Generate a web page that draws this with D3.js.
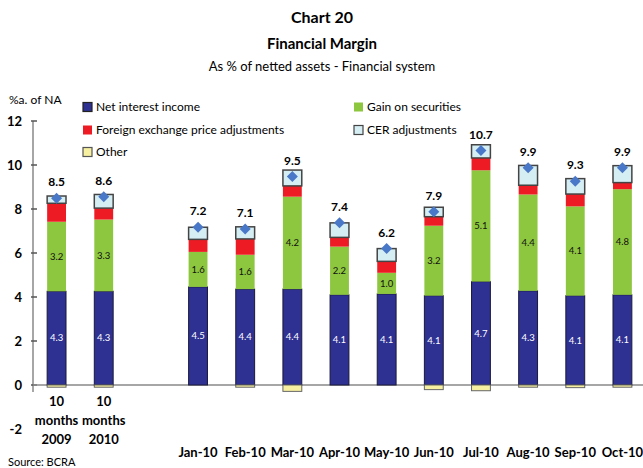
<!DOCTYPE html>
<html><head><meta charset="utf-8">
<script src="https://cdn.jsdelivr.net/npm/d3@7/dist/d3.min.js"></script>
<style>
body{margin:0;background:#fff;}
svg{display:block;font-family:Lato,"Open Sans",sans-serif;}
</style></head>
<body><svg id="c" width="643" height="468"></svg>
<script>
const categories = ["10 months 2009","10 months 2010","Jan-10","Feb-10","Mar-10","Apr-10","May-10","Jun-10","Jul-10","Aug-10","Sep-10","Oct-10"];
const netInterest = [4.26,4.26,4.46,4.36,4.36,4.1,4.14,4.06,4.7,4.28,4.06,4.1];
const gainSecurities = [3.16,3.26,1.59,1.56,4.2,2.19,0.96,3.18,5.06,4.38,4.06,4.8];
const fxAdjust = [0.84,0.52,0.57,0.72,0.49,0.42,0.52,0.41,0.56,0.42,0.56,0.3];
const cerAdjust = [0.33,0.62,0.55,0.55,0.72,0.66,0.58,0.43,0.6,0.9,0.7,0.77];
const other = [-0.1,-0.1,0,-0.1,-0.29,0,0,-0.21,-0.26,-0.1,-0.12,-0.1];
const yTicks = [-2,0,2,4,6,8,10,12];
const seriesNames = ["Net interest income","Gain on securities","Foreign exchange price adjustments","CER adjustments","Other"];

const colors = {nii:"#2E3192", gain:"#8DC63F", fx:"#ED1C24", cer:"#D5EEF3", other:"#F6F0A0", dia:"#4A78C8"};

const svg = d3.select("#c");
const slots = [categories[0], categories[1], "gap", ...categories.slice(2)];
const x = d3.scaleBand().domain(slots).range([33,646]).paddingInner(0.6).paddingOuter(0.3);
const y = d3.scaleLinear().domain([-2,12]).range([429,121]);

// titles
svg.append("text").attr("x",322).attr("y",23).attr("text-anchor","middle").attr("font-weight","bold").attr("font-size",16).text("Chart 20");
svg.append("text").attr("x",322).attr("y",49).attr("text-anchor","middle").attr("font-weight","bold").attr("font-size",15).text("Financial Margin");
svg.append("text").attr("x",322).attr("y",71).attr("text-anchor","middle").attr("font-size",13).text("As % of netted assets - Financial system");
svg.append("text").attr("x",9).attr("y",104).attr("font-size",12).text("%a. of NA");

// y axis
svg.append("line").attr("x1",33).attr("x2",33).attr("y1",y(12)).attr("y2",y(-0.32)).attr("stroke","#888").attr("stroke-width",1.5);
yTicks.filter(t=>t>=0).forEach(t=>{
  svg.append("line").attr("x1",31).attr("x2",37).attr("y1",y(t)).attr("y2",y(t)).attr("stroke","#555").attr("stroke-width",1.5);
});
svg.selectAll(".yl").data(yTicks).enter().append("text")
  .attr("x",22).attr("y",d=>y(d)).attr("dy","0.35em").attr("text-anchor","end")
  .attr("font-weight","bold").attr("font-size",13).text(d=>d);

// zero line
svg.append("line").attr("x1",33).attr("x2",643).attr("y1",y(0)).attr("y2",y(0)).attr("stroke","#888").attr("stroke-width",1.5);

// bars
const bw = x.bandwidth();
categories.forEach((c,i)=>{
  const x0 = x(c);
  const segs = [
    {v:netInterest[i], fill:colors.nii, stroke:"#1a1a3a", sw:1},
    {v:gainSecurities[i], fill:colors.gain, stroke:"none", sw:0},
    {v:fxAdjust[i], fill:colors.fx, stroke:"none", sw:0},
    {v:cerAdjust[i], fill:colors.cer, stroke:"#444", sw:1.5}
  ];
  let base = 0;
  segs.forEach(s=>{
    const top = base + s.v;
    svg.append("rect").attr("x",x0).attr("width",bw).attr("y",y(top)).attr("height",y(base)-y(top))
      .attr("fill",s.fill).attr("stroke",s.stroke).attr("stroke-width",s.sw);
    base = top;
  });
  if (other[i] < 0) {
    svg.append("rect").attr("x",x0).attr("width",bw).attr("y",y(0)).attr("height",y(other[i])-y(0))
      .attr("fill",colors.other).attr("stroke","#666").attr("stroke-width",1);
  }
  // segment labels
  svg.append("text").attr("x",x0+bw/2).attr("y",y(netInterest[i]/2)).attr("dy","0.35em").attr("text-anchor","middle")
    .attr("font-size",9.5).attr("fill","#fff").text(netInterest[i].toFixed(1));
  svg.append("text").attr("x",x0+bw/2).attr("y",y(netInterest[i]+gainSecurities[i]/2)).attr("dy","0.35em").attr("text-anchor","middle")
    .attr("font-size",9.5).attr("fill","#111").text(gainSecurities[i].toFixed(1));
  const total = netInterest[i]+gainSecurities[i]+fxAdjust[i]+cerAdjust[i]+other[i];
  const cx = x0+bw/2, cy = y(total);
  svg.append("path").attr("d",`M${cx},${cy-5.5}L${cx+5.5},${cy}L${cx},${cy+5.5}L${cx-5.5},${cy}Z`).attr("fill",colors.dia);
  svg.append("text").attr("x",cx).attr("y",cy-16).attr("dy","0.35em").attr("text-anchor","middle")
    .attr("font-weight","bold").attr("font-size",12).text(total.toFixed(1));
  // x labels
  if (i < 2) {
    const parts = c.split(" ");
    const t = svg.append("text").attr("text-anchor","middle").attr("font-weight","bold").attr("font-size",13);
    parts.forEach((p,k)=>t.append("tspan").attr("x",cx).attr("y",406+k*19).text(p));
  } else {
    svg.append("text").attr("x",cx).attr("y",457).attr("text-anchor","middle").attr("font-weight","bold").attr("font-size",13).text(c);
  }
});

// legend
const legend = [
  {n:seriesNames[0], f:colors.nii, s:"#222", x:83, y:107},
  {n:seriesNames[2], f:colors.fx, s:"none", x:83, y:130},
  {n:seriesNames[4], f:colors.other, s:"#555", x:83, y:152},
  {n:seriesNames[1], f:colors.gain, s:"none", x:354, y:107},
  {n:seriesNames[3], f:colors.cer, s:"#444", x:354, y:130}
];
legend.forEach(l=>{
  svg.append("rect").attr("x",l.x).attr("y",l.y-4.5).attr("width",9).attr("height",9).attr("fill",l.f).attr("stroke",l.s).attr("stroke-width",1.2);
  svg.append("text").attr("x",l.x+13).attr("y",l.y).attr("dy","0.35em").attr("font-size",12).text(l.n);
});

svg.append("text").attr("x",8).attr("y",466).attr("font-size",11).text("Source: BCRA");
</script></body></html>
